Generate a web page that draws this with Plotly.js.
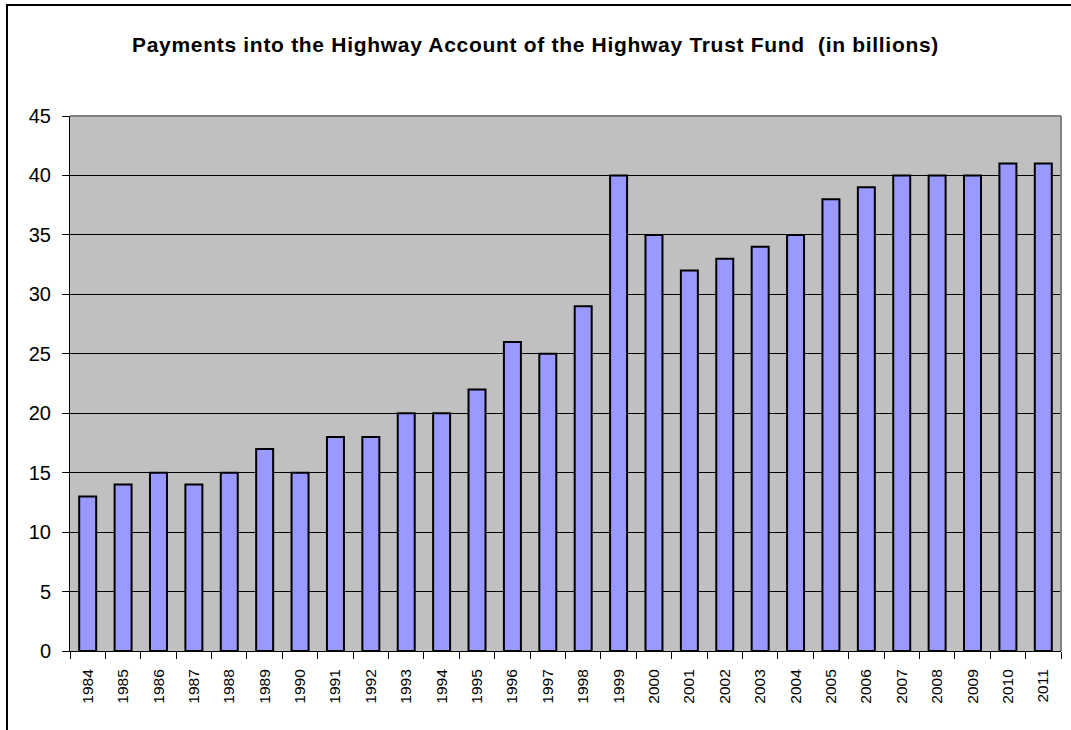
<!DOCTYPE html>
<html>
<head>
<meta charset="utf-8">
<script src="https://cdn.plot.ly/plotly-3.0.1.min.js"></script>
<style>
html,body{margin:0;padding:0;background:#fff;}
#wrap{position:relative;width:1071px;height:730px;overflow:hidden;}
#frame{position:absolute;left:6px;top:4px;width:1100px;height:800px;border:2px solid #000;box-sizing:border-box;pointer-events:none;}
#chart{position:absolute;left:0;top:0;width:1071px;height:730px;}
.gtitle{letter-spacing:0.7px;}
</style>
</head>
<body>
<div id="wrap">
<div id="chart"></div>
<div id="frame"></div>
</div>
<script>
const years = ["1984","1985","1986","1987","1988","1989","1990","1991","1992","1993","1994","1995","1996","1997","1998","1999","2000","2001","2002","2003","2004","2005","2006","2007","2008","2009","2010","2011"];
const payments = [13,14,15,14,15,17,15,18,18,20,20,22,26,25,29,40,35,32,33,34,35,38,39,40,40,40,41,41];
const yTicks = [0,5,10,15,20,25,30,35,40,45];
const titleText = "Payments into the Highway Account of the Highway Trust Fund  (in billions)";

const data = [{
  type: "bar",
  x: years,
  y: payments,
  marker: {color: "#9999FF", line: {color: "#000", width: 2}},
  hoverinfo: "x+y"
}];

const layout = {
  width: 1071, height: 730,
  margin: {l: 70, r: 10, t: 116, b: 79},
  paper_bgcolor: "rgba(0,0,0,0)",
  plot_bgcolor: "#C0C0C0",
  font: {family: "Liberation Sans, Arial, sans-serif", color: "#000"},
  title: {text: "<b>" + titleText + "</b>", font: {size: 21, family: "Liberation Sans, Arial, sans-serif", color: "#000"}, x: 0.5, xanchor: "center", y: 1 - 45/730, yanchor: "middle"},
  bargap: 0.52,
  showlegend: false,
  xaxis: {
    type: "category",
    tickangle: -90,
    tickfont: {size: 15.5},
    ticks: "outside", ticklen: 7, tickcolor: "#000", tickwidth: 1,
    tickson: "boundaries",
    ticklabelstandoff: 11,
    showline: true, linecolor: "#000", linewidth: 1,
    showgrid: false, zeroline: false
  },
  yaxis: {
    range: [0, 45],
    tickvals: yTicks,
    ticktext: yTicks.map(String),
    tickfont: {size: 20},
    ticks: "outside", ticklen: 7, tickcolor: "#000", tickwidth: 1,
    ticklabelstandoff: 7,
    showline: true, linecolor: "#000", linewidth: 1,
    showgrid: true, gridcolor: "#000", gridwidth: 1,
    zeroline: false
  },
  shapes: [
    {type: "line", xref: "paper", yref: "paper", x0: 0, x1: 1, y0: 1, y1: 1, line: {color: "#808080", width: 2}},
    {type: "line", xref: "paper", yref: "paper", x0: 1, x1: 1, y0: 0, y1: 1, line: {color: "#808080", width: 2}}
  ]
};

Plotly.newPlot("chart", data, layout, {displayModeBar: false, staticPlot: true});
</script>
</body>
</html>
